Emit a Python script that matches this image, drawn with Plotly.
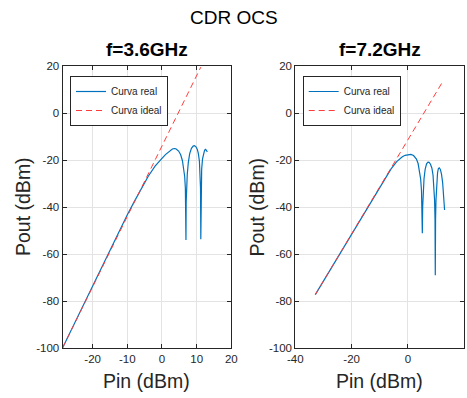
import plotly.graph_objects as go

# --- data ---
# f = 3.6 GHz
pin_real_36 = [-28.7, -20, -14, -10, -8, -6, -4, -2, -1, 0, 1, 2, 2.5, 3, 3.5, 4, 4.8, 5.4,
               5.9, 6.3, 6.55, 6.75, 6.85, 6.92, 6.98, 7.08, 7.3, 7.6, 8.0, 8.5, 9.0, 9.4,
               9.8, 10.2, 10.5, 10.8, 11.0, 11.12, 11.2, 11.28, 11.45, 11.7, 12.0, 12.3,
               12.6, 12.9, 13.1]
pout_real_36 = [-100, -73.5, -55, -43.3, -37.7, -32.2, -27.0, -22.6, -20.8, -19.3, -17.7,
                -16.4, -15.8, -15.3, -15.1, -15.2, -16.2, -17.8, -20.3, -23.5, -27, -32, -38,
                -54, -38, -32, -26, -21, -17.3, -15, -14.1, -13.9, -14.4, -15.5, -17.3,
                -20.5, -25, -32, -53.7, -32, -24, -19.5, -17, -15.8, -15.5, -15.9, -16.5]
pin_ideal_36 = [-28.7, 11.2]
pout_ideal_36 = [-100, 19.5]

# f = 7.2 GHz
pin_real_72 = [-32.9, -25, -18, -12, -8, -6, -4, -3, -2, -1, 0, 1, 2, 3, 3.6, 4.1, 4.5, 4.8,
               4.98, 5.1, 5.22, 5.4, 5.7, 6.1, 6.6, 7.1, 7.5, 8.0, 8.5, 8.9, 9.2, 9.45, 9.6,
               9.7, 9.8, 9.95, 10.2, 10.5, 10.8, 11.1, 11.5, 11.9, 12.3, 12.7, 13.0]
pout_real_72 = [-77.3, -61.5, -47.5, -35.4, -27.6, -23.8, -20.7, -19.5, -18.6, -18.0, -17.7,
                -17.6, -18.1, -19.6, -21.5, -24.3, -28, -33, -40, -51.2, -40, -33, -28, -24,
                -21.6, -20.9, -21, -21.8, -23.5, -26.5, -30.5, -37, -45, -69, -45, -37, -30,
                -25.5, -23.6, -23.3, -24, -26, -29.5, -34.5, -41.3]
pin_ideal_72 = [-32.9, 12.6]
pout_ideal_72 = [-77.3, 13.9]

y_ticks = [-100, -80, -60, -40, -20, 0, 20]
x_ticks_36 = [-20, -10, 0, 10, 20]
x_ticks_72 = [-40, -20, 0, 20]

W, H = 467, 398
FONT = "Liberation Sans, Arial, sans-serif"
INK = "#262626"
BLUE = "#0072BD"
RED = "#ff3b3b"


def px_x(p):
    return p / W


def px_y(p):
    return 1 - p / H


def labels(vals):
    # MATLAB prints a plain hyphen for negatives
    return [str(v) for v in vals]


fig = go.Figure()

fig.add_trace(go.Scatter(x=pin_real_36, y=pout_real_36, mode="lines", name="Curva real",
                         line=dict(color=BLUE, width=1.2), xaxis="x", yaxis="y", legend="legend"))
fig.add_trace(go.Scatter(x=pin_ideal_36, y=pout_ideal_36, mode="lines", name="Curva ideal",
                         line=dict(color=RED, width=1, dash="6px,4px"), xaxis="x", yaxis="y",
                         legend="legend"))
fig.add_trace(go.Scatter(x=pin_real_72, y=pout_real_72, mode="lines", name="Curva real",
                         line=dict(color=BLUE, width=1.2), xaxis="x2", yaxis="y2", legend="legend2"))
fig.add_trace(go.Scatter(x=pin_ideal_72, y=pout_ideal_72, mode="lines", name="Curva ideal",
                         line=dict(color=RED, width=1, dash="6px,4px"), xaxis="x2", yaxis="y2",
                         legend="legend2"))

axis_common = dict(
    showline=True, linecolor=INK, linewidth=1, mirror="ticks",
    ticks="inside", ticklen=4, tickcolor=INK, tickwidth=1,
    showgrid=True, gridcolor="#e3e3e3", gridwidth=1,
    zeroline=False, automargin=False,
    tickfont=dict(size=11.5, color=INK, family=FONT),
)

ydom = [px_y(348), px_y(66)]
legend_common = dict(xanchor="left", yanchor="top", bgcolor="white", bordercolor=INK,
                     borderwidth=1, font=dict(size=10, color=INK), itemwidth=30,
                     tracegroupgap=0)

fig.update_layout(
    template="none",
    width=W, height=H,
    paper_bgcolor="white", plot_bgcolor="white",
    margin=dict(l=0, r=0, t=0, b=0, autoexpand=False),
    font=dict(family=FONT, color=INK),
    xaxis=dict(domain=[px_x(62.5), px_x(231.3)], range=[-28.7, 20],
               tickvals=x_ticks_36, ticktext=labels(x_ticks_36), anchor="y", **axis_common),
    yaxis=dict(domain=ydom, range=[-100, 20], tickvals=y_ticks, ticktext=labels(y_ticks),
               anchor="x", **axis_common),
    xaxis2=dict(domain=[px_x(295.3), px_x(464.3)], range=[-40, 20],
                tickvals=x_ticks_72, ticktext=labels(x_ticks_72), anchor="y2", **axis_common),
    yaxis2=dict(domain=ydom, range=[-100, 20], tickvals=y_ticks, ticktext=labels(y_ticks),
                anchor="x2", **axis_common),
    legend=dict(x=px_x(70), y=px_y(76), **legend_common),
    legend2=dict(x=px_x(302.7), y=px_y(76), **legend_common),
    showlegend=True,
)

annotations = [
    dict(text="CDR OCS", x=px_x(233.5), y=px_y(17), font=dict(size=19, color="black")),
    dict(text="<b>f=3.6GHz</b>", x=px_x(146.9), y=px_y(49), font=dict(size=19, color="black")),
    dict(text="<b>f=7.2GHz</b>", x=px_x(379.8), y=px_y(49), font=dict(size=19, color="black")),
    dict(text="Pin (dBm)", x=px_x(146.9), y=px_y(381), font=dict(size=19.5, color=INK)),
    dict(text="Pin (dBm)", x=px_x(379.8), y=px_y(381), font=dict(size=19.5, color=INK)),
    dict(text="Pout (dBm)", x=px_x(23), y=px_y(207), textangle=-90, font=dict(size=19.5, color=INK)),
    dict(text="Pout (dBm)", x=px_x(256.5), y=px_y(207), textangle=-90, font=dict(size=19.5, color=INK)),
]
for a in annotations:
    fig.add_annotation(xref="paper", yref="paper", showarrow=False,
                       xanchor="center", yanchor="middle", **a)

# page margin off so the figure sits flush in the window
fig.write_html("out.html", config={"displayModeBar": False},
               post_script="document.body.style.margin='0';")
